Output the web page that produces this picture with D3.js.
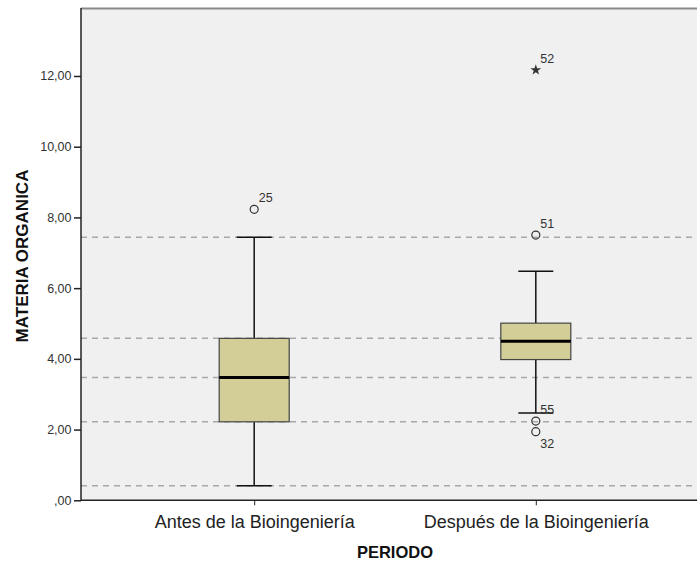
<!DOCTYPE html>
<html>
<head>
<meta charset="utf-8">
<script src="https://cdn.jsdelivr.net/npm/d3@7"></script>
<style>
  html, body { margin: 0; padding: 0; background: #ffffff; }
  svg { display: block; font-family: Arial, "Liberation Sans", sans-serif; }
</style>
</head>
<body>
<svg id="chart" width="697" height="562"></svg>
<script>
// Box plot of organic matter by period
const categories = ["Antes de la Bioingeniería", "Después de la Bioingeniería"];
const whiskerLow  = [0.41, 2.47];
const q1          = [2.22, 3.98];
const median      = [3.47, 4.50];
const q3          = [4.58, 5.01];
const whiskerHigh = [7.44, 6.48];
// outliers: group index, value, case id, symbol
const outlierGroup = [0, 1, 1, 1, 1];
const outlierValue = [8.23, 12.17, 7.50, 2.24, 1.94];
const outlierId    = ["25", "52", "51", "55", "32"];
const outlierKind  = ["circle", "star", "circle", "circle", "circle"];
const yTicks = [0, 2, 4, 6, 8, 10, 12];

const svg = d3.select("#chart");
const W = 697, H = 562;
const plot = { left: 81, right: 709, top: 8, bottom: 500.3 };
const FONT = "Arial, 'Liberation Sans', sans-serif";

const y = d3.scaleLinear().domain([0, 12]).range([plot.bottom, plot.bottom - 12 * 35.36]);
const x = d3.scalePoint().domain(categories).range([plot.left, plot.right]).padding(0.615);

const fmt = v => v === 0 ? ",00" : d3.format(".2f")(v).replace(".", ",");

// plot background
svg.append("rect")
  .attr("x", plot.left).attr("y", plot.top)
  .attr("width", plot.right - plot.left).attr("height", plot.bottom - plot.top)
  .attr("fill", "#f0f0f0");

// top frame line
svg.append("line")
  .attr("x1", plot.left).attr("x2", W)
  .attr("y1", plot.top + 0.5).attr("y2", plot.top + 0.5)
  .attr("stroke", "#8a8a8a").attr("stroke-width", 2);

// dashed reference lines at the first group's statistics
const refs = [whiskerHigh[0], q3[0], median[0], q1[0], whiskerLow[0]];
svg.append("g").selectAll("line").data(refs).join("line")
  .attr("x1", plot.left).attr("x2", W)
  .attr("y1", d => y(d)).attr("y2", d => y(d))
  .attr("stroke", "#a8a8a8").attr("stroke-width", 1.5)
  .attr("stroke-dasharray", "6,5");

// y axis
const yAxis = svg.append("g")
  .attr("transform", `translate(${plot.left},0)`)
  .call(d3.axisLeft(y).tickValues(yTicks).tickFormat(fmt).tickSize(7).tickSizeOuter(0));
yAxis.select(".domain").attr("stroke", "#222").attr("stroke-width", 1.5)
  .attr("d", `M0,${plot.top}V${plot.bottom}`);
yAxis.selectAll(".tick line").attr("stroke", "#222").attr("stroke-width", 1.5);
yAxis.selectAll(".tick text").attr("font-size", 12.5).attr("fill", "#333")
  .attr("font-family", FONT).attr("x", -9.5);

// x axis
const xAxis = svg.append("g")
  .attr("transform", `translate(0,${plot.bottom})`)
  .call(d3.axisBottom(x).tickSize(5).tickSizeOuter(0));
xAxis.select(".domain").attr("stroke", "#222").attr("stroke-width", 1.5)
  .attr("d", `M${plot.left},0H${W}`);
xAxis.selectAll(".tick line").attr("stroke", "#222");
xAxis.selectAll(".tick text").attr("font-size", 18).attr("fill", "#222")
  .attr("font-family", FONT).attr("dy", null).attr("y", 28);

// boxes
const boxW = 70, capW = 35;
const groups = svg.append("g").selectAll("g").data(categories).join("g")
  .attr("transform", d => `translate(${x(d)},0)`);

groups.append("line")
  .attr("y1", (d, i) => y(whiskerLow[i])).attr("y2", (d, i) => y(q1[i]))
  .attr("stroke", "#111").attr("stroke-width", 1.5);
groups.append("line")
  .attr("y1", (d, i) => y(q3[i])).attr("y2", (d, i) => y(whiskerHigh[i]))
  .attr("stroke", "#111").attr("stroke-width", 1.5);
groups.append("line")
  .attr("x1", -capW / 2).attr("x2", capW / 2)
  .attr("y1", (d, i) => y(whiskerLow[i])).attr("y2", (d, i) => y(whiskerLow[i]))
  .attr("stroke", "#111").attr("stroke-width", 1.5);
groups.append("line")
  .attr("x1", -capW / 2).attr("x2", capW / 2)
  .attr("y1", (d, i) => y(whiskerHigh[i])).attr("y2", (d, i) => y(whiskerHigh[i]))
  .attr("stroke", "#111").attr("stroke-width", 1.5);
groups.append("rect")
  .attr("x", -boxW / 2).attr("width", boxW)
  .attr("y", (d, i) => y(q3[i])).attr("height", (d, i) => y(q1[i]) - y(q3[i]))
  .attr("fill", "#d3ce98").attr("stroke", "#444").attr("stroke-width", 1.2);
groups.append("line")
  .attr("x1", -boxW / 2).attr("x2", boxW / 2)
  .attr("y1", (d, i) => y(median[i])).attr("y2", (d, i) => y(median[i]))
  .attr("stroke", "#000").attr("stroke-width", 3);

// outliers and extremes
const outliers = outlierValue.map((v, i) => ({
  g: outlierGroup[i], v, id: outlierId[i], kind: outlierKind[i]
}));
const og = svg.append("g");
outliers.forEach(o => {
  const cx = x(categories[o.g]), cy = y(o.v);
  if (o.kind === "circle") {
    og.append("circle").attr("cx", cx).attr("cy", cy).attr("r", 4)
      .attr("fill", "none").attr("stroke", "#333").attr("stroke-width", 1.2);
  } else {
    og.append("path").attr("d", d3.symbol(d3.symbolStar, 36)())
      .attr("transform", `translate(${cx},${cy})`).attr("fill", "#333");
  }
  // case label: the lowest point is labelled below, the rest above
  const below = o.id === "32";
  og.append("text")
    .attr("x", cx + 4.5)
    .attr("y", below ? cy + 16 : cy - 7)
    .attr("font-size", 12.5).attr("fill", "#333")
    .text(o.id);
});

// axis titles
svg.append("text")
  .attr("x", (x(categories[0]) + x(categories[1])) / 2).attr("y", 558)
  .attr("text-anchor", "middle").attr("font-size", 16.5).attr("font-weight", "bold")
  .attr("fill", "#111").text("PERIODO");
svg.append("text")
  .attr("transform", `translate(28,256) rotate(-90)`)
  .attr("text-anchor", "middle").attr("font-size", 17).attr("font-weight", "bold")
  .attr("fill", "#111").text("MATERIA ORGANICA");
</script>
</body>
</html>
